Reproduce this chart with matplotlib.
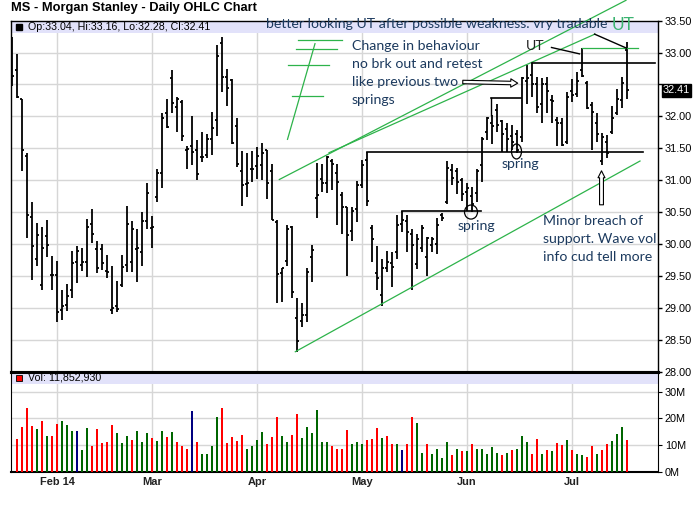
import numpy as np
import matplotlib
matplotlib.use("Agg")
import matplotlib.pyplot as plt
from matplotlib.patches import Rectangle, Ellipse, FancyArrowPatch

# ---------------- data ----------------
opens = [33.20, 32.72, 32.28, 31.38, 30.42, 29.77, 29.35, 30.12, 29.51, 29.51,
         28.97, 29.04, 29.27, 29.71, 29.67, 29.71, 30.31, 29.92, 29.92, 29.58,
         28.96, 29.02, 29.35, 29.67, 29.71, 29.92, 29.87, 30.36, 30.25, 30.74,
         31.11, 32.06, 32.60, 32.15, 32.23, 31.47, 31.53, 31.47, 31.36, 31.39,
         31.65, 31.94, 33.15, 32.61, 32.57, 31.85, 31.14, 30.94, 31.18, 31.22,
         31.23, 31.47, 31.15, 30.35, 29.54, 29.73, 30.26, 28.84, 28.79, 28.88,
         29.80, 30.72, 31.02, 30.95, 31.30, 31.11, 30.76, 30.58, 30.20, 30.54,
         30.93, 31.31, 30.25, 29.55, 29.20, 29.62, 29.70, 29.87, 30.32, 30.36,
         30.15, 29.69, 29.93, 29.80, 29.98, 30.00, 30.45, 30.66, 31.16, 31.15,
         31.00, 30.81, 30.75, 30.80, 31.23, 31.76, 31.90, 32.10, 31.92, 31.80,
         31.70, 31.72, 31.68, 32.55, 32.65, 32.50, 32.20, 32.50, 32.25, 31.95,
         31.90, 31.60, 32.40, 32.35, 32.72, 32.52, 32.18, 31.90, 31.30, 31.60,
         31.75, 32.05, 32.25, 33.04]
highs = [33.25, 32.98, 32.28, 31.42, 30.65, 30.33, 30.26, 30.38, 29.81, 29.73,
         29.27, 29.37, 29.89, 29.97, 29.93, 30.39, 30.55, 30.05, 30.00, 29.83,
         29.66, 29.42, 29.83, 30.59, 30.36, 30.24, 30.50, 30.95, 30.44, 31.18,
         32.05, 32.28, 32.72, 32.30, 32.25, 31.54, 32.00, 31.63, 31.75, 31.73,
         32.07, 33.12, 33.25, 32.75, 32.58, 31.98, 31.46, 31.42, 31.46, 31.52,
         31.59, 31.48, 31.25, 30.37, 29.63, 30.29, 30.28, 29.15, 29.07, 29.63,
         29.98, 31.27, 31.25, 31.38, 31.33, 31.25, 30.81, 30.58, 30.58, 30.99,
         31.31, 31.44, 30.29, 29.97, 29.77, 29.89, 29.87, 30.45, 30.51, 30.45,
         30.23, 30.16, 30.29, 30.11, 30.11, 30.40, 30.49, 31.30, 31.26, 31.19,
         31.03, 30.96, 30.89, 31.18, 31.68, 31.99, 32.02, 32.20, 31.94, 31.90,
         31.87, 31.78, 32.62, 32.80, 32.85, 32.62, 32.60, 32.61, 32.33, 31.99,
         31.98, 32.38, 32.59, 32.70, 33.07, 32.55, 32.23, 32.06, 31.74, 31.71,
         32.17, 32.43, 32.61, 33.16]
lows = [32.48, 32.29, 31.14, 30.09, 29.43, 29.65, 29.27, 29.80, 29.27, 28.78,
        28.81, 28.95, 29.15, 29.38, 29.58, 29.48, 30.02, 29.54, 29.59, 29.47,
        28.90, 28.93, 29.32, 29.56, 29.56, 29.41, 29.66, 30.23, 29.93, 30.66,
        30.87, 31.81, 32.06, 31.76, 31.62, 31.17, 31.23, 31.00, 31.29, 31.34,
        31.39, 31.69, 32.38, 32.16, 31.57, 31.21, 30.59, 30.74, 30.97, 31.02,
        31.01, 30.70, 30.37, 29.08, 29.09, 29.65, 29.16, 28.30, 28.69, 28.78,
        29.41, 30.40, 30.81, 30.80, 30.84, 30.29, 30.16, 29.49, 30.04, 30.34,
        30.88, 30.60, 29.71, 29.27, 29.03, 29.56, 29.33, 29.77, 30.19, 29.87,
        29.27, 29.61, 29.87, 29.49, 29.87, 29.85, 30.36, 30.63, 30.92, 30.78,
        30.67, 30.52, 30.50, 30.66, 30.97, 31.63, 31.57, 31.76, 31.44, 31.44,
        31.47, 31.42, 31.60, 32.20, 32.30, 32.05, 31.90, 32.05, 31.89, 31.54,
        31.53, 31.56, 32.23, 32.31, 32.62, 32.11, 31.47, 31.60, 31.23, 31.34,
        31.73, 32.02, 32.13, 32.28]
closes = [32.63, 32.30, 31.47, 30.45, 29.97, 30.14, 29.93, 29.99, 29.51, 28.94,
          29.03, 29.18, 29.70, 29.89, 29.71, 30.26, 30.16, 29.62, 29.70, 29.56,
          29.00, 28.98, 29.64, 30.32, 30.24, 29.93, 30.36, 30.80, 30.27, 31.11,
          31.98, 31.84, 32.21, 32.27, 31.69, 31.49, 31.44, 31.10, 31.37, 31.65,
          31.81, 32.95, 32.61, 32.45, 31.58, 31.25, 30.92, 30.96, 31.18, 31.38,
          31.42, 30.96, 30.37, 29.53, 29.62, 30.23, 29.25, 28.48, 28.88, 29.56,
          29.90, 30.77, 30.96, 31.36, 31.26, 30.97, 30.58, 30.14, 30.52, 30.93,
          31.23, 30.68, 30.08, 29.46, 29.62, 29.71, 29.64, 30.30, 30.37, 30.18,
          29.98, 30.08, 30.25, 30.10, 30.08, 30.30, 30.40, 31.19, 31.03, 30.97,
          30.78, 30.87, 30.62, 31.15, 31.65, 31.97, 31.85, 31.86, 31.73, 31.65,
          31.60, 31.48, 32.60, 32.60, 32.50, 32.15, 32.50, 32.40, 32.24, 31.90,
          31.55, 32.31, 32.33, 32.55, 32.64, 32.13, 32.07, 31.73, 31.68, 31.42,
          31.97, 32.28, 32.52, 32.41]
# first session's volume bar is not visible in the chart
volumes_m = [np.nan, 12.4, 16.6, 23.8, 17.1, 15.9, 19.0, 13.3, 13.3, 17.8,
             19.0, 17.5, 15.2, 15.2, 8.0, 16.3, 9.5, 15.9, 10.6, 11.0,
             17.5, 14.4, 10.6, 13.3, 11.8, 15.2, 11.0, 14.4, 12.5, 11.4,
             15.2, 12.9, 14.8, 11.0, 9.5, 8.4, 22.8, 11.0, 6.8, 6.8,
             9.5, 20.5, 23.9, 10.6, 12.9, 11.4, 13.7, 8.4, 9.5, 11.8,
             14.8, 10.3, 12.9, 20.5, 13.3, 11.0, 13.7, 21.6, 12.5, 16.7,
             14.4, 23.2, 11.0, 11.0, 9.5, 8.7, 8.4, 15.6, 10.5, 11.0,
             10.3, 11.8, 12.2, 16.3, 12.5, 13.3, 10.3, 10.3, 8.0, 10.3,
             20.5, 18.2, 7.2, 10.3, 6.8, 8.4, 5.3, 11.0, 6.1, 8.7,
             7.6, 7.6, 10.3, 8.4, 8.7, 6.5, 9.1, 7.2, 6.1, 7.2,
             8.0, 8.7, 13.3, 11.0, 6.8, 12.2, 6.8, 8.0, 7.6, 10.6,
             9.9, 11.8, 8.0, 6.5, 6.1, 5.7, 9.5, 6.5, 8.0, 10.3,
             11.4, 14.1, 16.7, 11.85]
volume_dir = ("rrrrrgrgrr" "gggbggrrrr" "rgggrgggrg" "grgrrrbrgg" "ggrrrrrggg"
              "grrrggrrgg" "ggggrrrrgg" "grrrgrrgbr" "rggrggggrg" "rgrgggggrg"
              "rgggrrgrgr" "rgrggrrgrr" "gggr")
month_labels = ["Feb 14", "Mar", "Apr", "May", "Jun", "Jul"]
month_start_idx = [9, 28, 49, 70, 91, 112]
price_ticks = [28.0, 28.5, 29.0, 29.5, 30.0, 30.5, 31.0, 31.5, 32.0, 32.5, 33.0, 33.5]
vol_ticks = [0, 10, 20, 30]
last_close_label = "32.41"

# hand-drawn annotations (data coords: bar index, price)
green_trend_upper1 = [(53.46, 31.01), (122.8, 33.82)]
green_trend_upper2 = [(63.4, 31.43), (116.6, 33.29)]
green_trend_lower = [(56.66, 28.31), (125.6, 31.30)]
green_doodle_h = [(57.1, 65.9, 33.20), (56.8, 64.9, 33.06), (55.1, 63.3, 32.81), (56.0, 62.1, 32.32)]
green_doodle_slant = [(55.1, 31.64), (60.6, 33.14)]
green_ut_line = [(113.9, 33.07), (125.2, 33.07)]
black_hlines = [(103.9, 128.6, 32.84), (70.9, 126.1, 31.44), (77.9, 93.8, 30.51), (95.8, 101.8, 32.29)]
black_segments = [[(107.9, 33.08), (113.5, 32.98)], [(116.5, 33.29), (122.9, 33.07)],
                  [(95.8, 32.29), (95.8, 32.02)]]

# ---------------- figure ----------------
W, H = 700, 512
fig = plt.figure(figsize=(7, 5.12), dpi=100)
fig.patch.set_facecolor("white")


def fx(px):
    return px / W


def fy(py):
    return 1 - py / H


P_L, P_R, P_T, P_B, V_B = 11, 658, 20.7, 371.5, 471.7
ax = fig.add_axes([fx(P_L), fy(P_B), fx(P_R) - fx(P_L), fy(P_T) - fy(P_B)])
axv = fig.add_axes([fx(P_L), fy(V_B), fx(P_R) - fx(P_L), fy(P_B) - fy(V_B)])

n = len(closes)
x = np.arange(n)
XL = (-0.2, 129.2)
GRID = "#D6D6D6"
TICKFONT = "Liberation Sans"

# price panel
ax.set_xlim(*XL)
ax.set_ylim(28.0, 33.5)
ax.vlines(x, lows, highs, colors="black", lw=1.3, zorder=4)
ax.hlines(opens, x - 0.45, x, colors="black", lw=1.3, zorder=4)
ax.hlines(closes, x, x + 0.45, colors="black", lw=1.3, zorder=4)
ax.set_yticks(price_ticks)
# the 32.50 label is hidden behind the last-price tag in the original
ax.set_yticklabels(["" if abs(v - 32.5) < 1e-9 else f"{v:.2f}" for v in price_ticks],
                   fontfamily=TICKFONT, fontsize=7.8)
ax.set_xticks(month_start_idx)
ax.set_xticklabels([])
ax.yaxis.tick_right()
ax.tick_params(axis="y", direction="out", length=3, pad=2, width=1)
ax.tick_params(axis="x", length=0)
ax.grid(True, color=GRID, lw=1, zorder=0)
ax.set_axisbelow(True)
for s in ["left", "right", "top"]:
    ax.spines[s].set_linewidth(1.0)
ax.spines["bottom"].set_linewidth(2.2)
ax.add_patch(Rectangle((0, 1 - 12.2 / (P_B - P_T)), 1, 12.2 / (P_B - P_T), transform=ax.transAxes,
                       facecolor="#E2E2FA", edgecolor="none", zorder=1.5))

# last-price tag
ax.annotate(last_close_label, xy=(1, closes[-1]), xycoords=("axes fraction", "data"), xytext=(3.5, 0),
            textcoords="offset points", va="center", ha="left", color="white", fontsize=7.8,
            fontfamily=TICKFONT, annotation_clip=False,
            bbox=dict(boxstyle="square,pad=0.12", facecolor="black", edgecolor="black"))

# volume panel
axv.set_xlim(*XL)
axv.set_ylim(0, 37.6)
cmap = {"r": "#FF0000", "g": "#006600", "b": "#000080"}
axv.bar(x, volumes_m, width=0.55, color=[cmap[c] for c in volume_dir], zorder=3)
axv.set_yticks(vol_ticks)
axv.set_yticklabels([f"{v}M" for v in vol_ticks], fontfamily=TICKFONT, fontsize=7.8)
axv.yaxis.tick_right()
axv.tick_params(axis="y", direction="out", length=3, pad=2)
axv.set_xticks(month_start_idx)
axv.set_xticklabels(month_labels, fontfamily=TICKFONT, fontweight="bold", fontsize=7.9, color="#222222")
axv.tick_params(axis="x", length=0, pad=4)
axv.grid(True, color=GRID, lw=1, zorder=0)
axv.set_axisbelow(True)
axv.spines["top"].set_linewidth(2.2)
axv.spines["bottom"].set_linewidth(1.5)
axv.add_patch(Rectangle((0, 1 - 12.3 / (V_B - P_B)), 1, 12.3 / (V_B - P_B), transform=axv.transAxes,
                        facecolor="#E2E2FA", edgecolor="none", zorder=1.5))

# headers
fig.text(fx(11), fy(8.5), "MS - Morgan Stanley - Daily OHLC Chart", fontfamily=TICKFONT,
         fontweight="bold", fontsize=9.3, va="center", ha="left")
fig.add_artist(Rectangle((fx(16), fy(30)), fx(6), 6 / H, facecolor="black", edgecolor="black",
                         transform=fig.transFigure))
fig.text(fx(27.5), fy(26.8), "Op:33.04, Hi:33.16, Lo:32.28, Cl:32.41", fontfamily=TICKFONT,
         fontsize=7.7, va="center", ha="left")
fig.add_artist(Rectangle((fx(16), fy(381)), fx(6), 6 / H, facecolor="#FF0000", edgecolor="black",
                         lw=0.6, transform=fig.transFigure))
fig.text(fx(27.5), fy(378), "Vol: 11,852,930", fontfamily=TICKFONT, fontsize=7.7, va="center", ha="left")

# annotations - lines
GREEN = "#2DB34A"
for seg in (green_trend_upper1, green_trend_upper2, green_trend_lower, green_doodle_slant, green_ut_line):
    (x0, y0), (x1, y1) = seg
    ax.plot([x0, x1], [y0, y1], color=GREEN, lw=0.9, clip_on=False, zorder=5)
for x0, x1, yv in green_doodle_h:
    ax.plot([x0, x1], [yv, yv], color=GREEN, lw=0.9, clip_on=False, zorder=5)
for x0, x1, yv in black_hlines:
    ax.plot([x0, x1], [yv, yv], color="black", lw=1.2, clip_on=False, zorder=5)
for (x0, y0), (x1, y1) in black_segments:
    ax.plot([x0, x1], [y0, y1], color="black", lw=1.0, clip_on=False, zorder=5)

ax.add_patch(Ellipse((91.8, 30.50), 2.6, 0.22, facecolor="none", edgecolor="black", lw=0.9, zorder=6))
ax.add_patch(Ellipse((100.9, 31.45), 2.0, 0.235, facecolor="none", edgecolor="black", lw=0.9, zorder=6))

ax.add_patch(FancyArrowPatch((89.6, 32.54), (101.7, 32.52), mutation_scale=1,
                             arrowstyle="simple,head_length=5,head_width=6,tail_width=2.5",
                             facecolor="white", edgecolor="black", lw=0.8, zorder=6))
ax.add_patch(FancyArrowPatch((117.9, 30.57), (117.9, 31.19), mutation_scale=1,
                             arrowstyle="simple,head_length=5,head_width=5,tail_width=2.8",
                             facecolor="white", edgecolor="black", lw=0.8, zorder=6))

# annotations - text
NOTE = "#1C3A5E"
NOTEFONT = "Lato"
NS = 10.2
fig.text(fx(266.5), fy(24.5), "better looking UT after possible weakness. vry tradable", color=NOTE,
         fontfamily=NOTEFONT, fontsize=NS, va="center", ha="left")
fig.text(fx(623), fy(25.5), "UT", color="#3CB371", fontfamily=NOTEFONT, fontsize=12.5, va="center", ha="center")
for i, line in enumerate(["Change in behaviour", "no brk out and retest", "like previous two", "springs"]):
    fig.text(fx(351.5), fy(46 + 18 * i), line, color=NOTE, fontfamily=NOTEFONT, fontsize=NS, va="center", ha="left")
fig.text(fx(535), fy(45.7), "UT", color="#222222", fontfamily=NOTEFONT, fontsize=NS, va="center", ha="center")
fig.text(fx(476), fy(225.7), "spring", color=NOTE, fontfamily=NOTEFONT, fontsize=NS, va="center", ha="center")
fig.text(fx(520), fy(164.3), "spring", color=NOTE, fontfamily=NOTEFONT, fontsize=NS, va="center", ha="center")
for i, line in enumerate(["Minor breach of", "support. Wave vol", "info cud tell more"]):
    fig.text(fx(542.7), fy(220.7 + 18 * i), line, color=NOTE, fontfamily=NOTEFONT, fontsize=NS, va="center", ha="left")

fig.savefig("out.png", dpi=100, facecolor="white")
